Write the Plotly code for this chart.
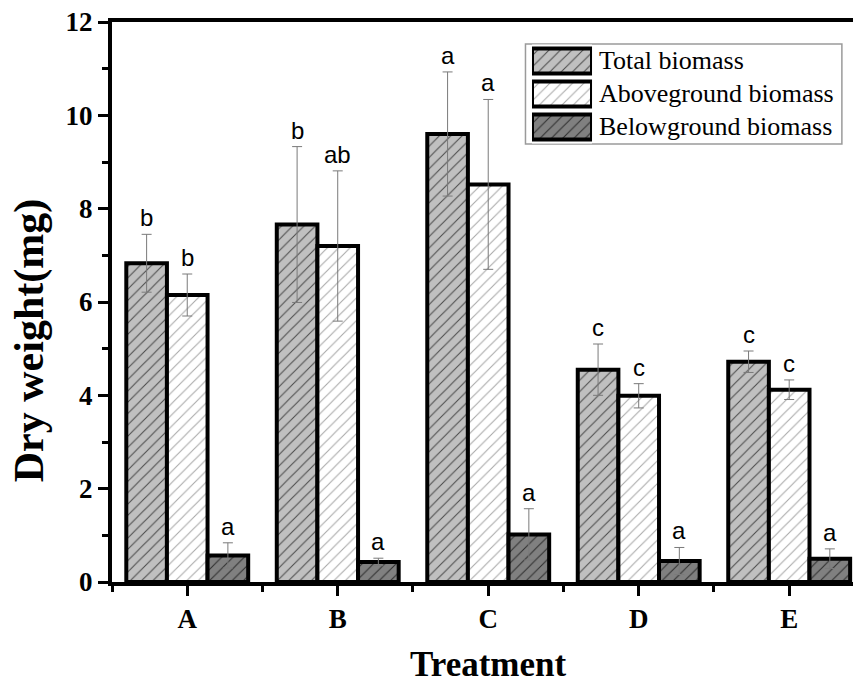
import plotly.graph_objects as go

# ---------------- data ----------------
treatments = ["A", "B", "C", "D", "E"]
series_names = ["Total biomass", "Aboveground biomass", "Belowground biomass"]

total = [6.83, 7.66, 9.60, 4.55, 4.72]
total_err = [0.62, 1.67, 1.33, 0.55, 0.23]
above = [6.15, 7.20, 8.52, 3.99, 4.12]
above_err = [0.45, 1.61, 1.82, 0.26, 0.21]
below = [0.57, 0.43, 1.02, 0.45, 0.50]
below_err = [0.27, 0.08, 0.55, 0.29, 0.21]

total_letters = ["b", "b", "a", "c", "c"]
above_letters = ["b", "ab", "a", "c", "c"]
below_letters = ["a", "a", "a", "a", "a"]

y_ticks = [0, 2, 4, 6, 8, 10, 12]

# ---------------- styles ----------------
SERIF = "Liberation Serif"
SANS = "Liberation Sans"
bg_colors = ["#c0c0c0", "#ffffff", "#808080"]
fg_colors = ["#4a4a4a", "#a8a8a8", "#2e2e2e"]
BARGAP = 0.19
PAT_SIZE = 8
PAT_SOLID = 0.13

xpos = list(range(len(treatments)))
values = [total, above, below]
errors = [total_err, above_err, below_err]
letters = [total_letters, above_letters, below_letters]


def hatch(k):
    return dict(shape="/", fgcolor=fg_colors[k], bgcolor=bg_colors[k],
                size=PAT_SIZE, solidity=PAT_SOLID, fillmode="replace")


fig = go.Figure()
for k in range(3):
    fig.add_trace(go.Bar(
        x=xpos, y=values[k], name=series_names[k], showlegend=False,
        marker=dict(color=bg_colors[k], line=dict(color="black", width=4),
                    pattern=hatch(k)),
        error_y=dict(type="data", array=errors[k], color="#7a7a7a",
                     thickness=1, width=5),
    ))

# significance letters above error bars
bw = (1 - BARGAP) / 3
annotations = []
for k in range(3):
    for i in xpos:
        annotations.append(dict(
            x=i + (k - 1) * bw, y=values[k][i] + errors[k][i],
            xref="x", yref="y", text=letters[k][i], showarrow=False,
            yanchor="bottom", yshift=1,
            font=dict(family=SANS, size=24, color="black"),
        ))

# legend (custom, with large hatched swatches on an inset axis)
for k in range(3):
    fig.add_trace(go.Bar(
        x=[1], y=[series_names[k]], orientation="h", xaxis="x2", yaxis="y2",
        width=0.76, offset=-0.38,
        showlegend=False, hoverinfo="skip", cliponaxis=False,
        marker=dict(color=bg_colors[k], line=dict(color="black", width=4),
                    pattern=hatch(k)),
    ))
leg_y = [0.931, 0.872, 0.813]
for j, name in enumerate(series_names):
    annotations.append(dict(
        x=0.6545, y=leg_y[j], xref="paper", yref="paper", text=name,
        showarrow=False, xanchor="left", yanchor="middle",
        font=dict(family=SERIF, size=26, color="black"),
    ))

# axis titles
annotations.append(dict(
    x=-0.112, y=0.43, xref="paper", yref="paper", text="<b>Dry weight(mg)</b>",
    showarrow=False, textangle=-90, xanchor="center", yanchor="middle",
    font=dict(family=SERIF, size=42, color="black"),
))
annotations.append(dict(
    x=0.507, y=-0.147, xref="paper", yref="paper", text="<b>Treatment</b>",
    showarrow=False, xanchor="center", yanchor="middle",
    font=dict(family=SERIF, size=35, color="black"),
))

fig.update_layout(
    width=853, height=686,
    margin=dict(l=112, r=0, t=22, b=104),
    paper_bgcolor="white", plot_bgcolor="white",
    barmode="group", bargap=BARGAP, bargroupgap=0,
    showlegend=False,
    annotations=annotations,
    shapes=[dict(type="rect", xref="paper", yref="paper",
                 x0=0.558, x1=0.985, y0=0.782, y1=0.9607,
                 line=dict(color="#9a9a9a", width=1.5), layer="below")],
    xaxis=dict(
        range=[-0.5, 4.424], tickmode="array", tickvals=xpos, ticktext=treatments,
        ticks="outside", ticklen=10, tickwidth=3, tickcolor="black",
        showline=True, linewidth=4, linecolor="black", mirror=True,
        showgrid=False, zeroline=False,
        tickfont=dict(family=SERIF, size=27, color="black", weight="bold"),
        minor=dict(tickmode="array", tickvals=[-0.5, 0.5, 1.5, 2.5, 3.5],
                   ticks="outside", ticklen=6, tickwidth=3, tickcolor="black"),
    ),
    yaxis=dict(
        range=[0, 12], tickmode="array", tickvals=y_ticks,
        ticks="outside", ticklen=10, tickwidth=3, tickcolor="black",
        showline=True, linewidth=4, linecolor="black", mirror=False,
        showgrid=False, zeroline=False,
        tickfont=dict(family=SERIF, size=27, color="black", weight="bold"),
        minor=dict(dtick=1, ticks="outside", ticklen=6, tickwidth=3,
                   tickcolor="black"),
    ),
    xaxis2=dict(domain=[0.5668, 0.6478], range=[0, 1], anchor="y2",
                visible=False, fixedrange=True),
    yaxis2=dict(domain=[0.783, 0.9598], anchor="x2", visible=False,
                autorange="reversed", fixedrange=True),
)

fig.write_html("out.html")
